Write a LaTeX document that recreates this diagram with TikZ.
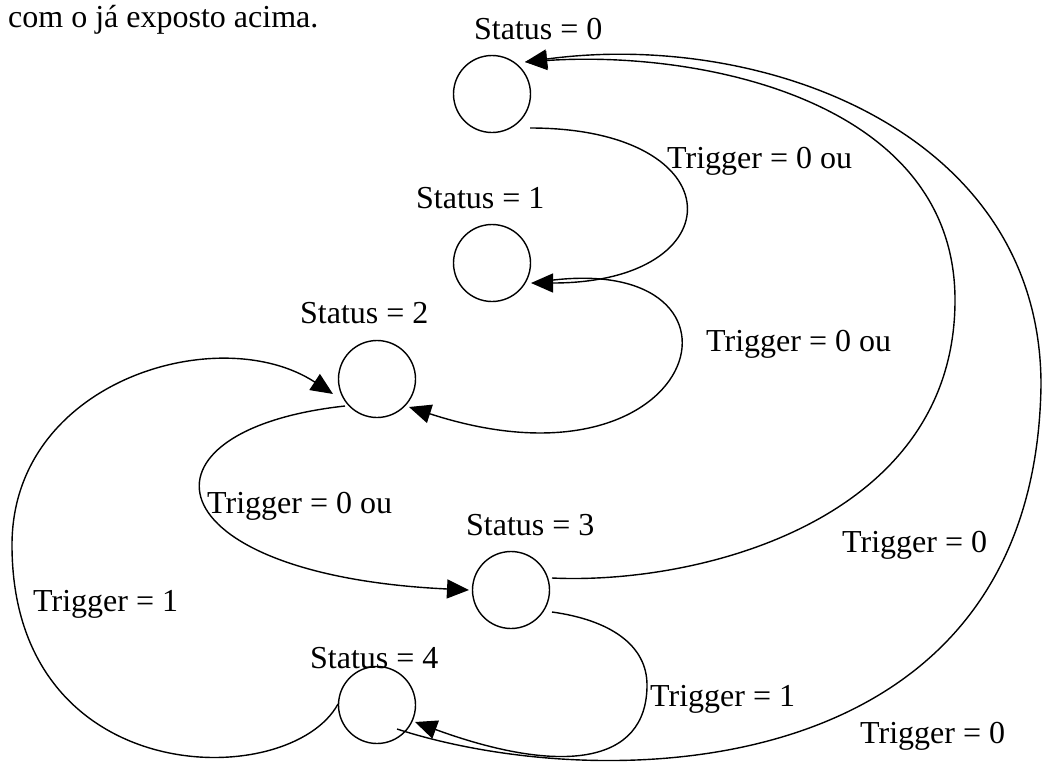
\documentclass[tikz,border=0pt]{standalone}
\usepackage{fontspec}
\setmainfont{Liberation Serif}
\usetikzlibrary{arrows.meta}
\begin{document}
\begin{tikzpicture}[x=1pt,y=-1pt,
  state/.style={circle,draw,line width=1.4pt,minimum size=77pt,inner sep=0pt},
  lbl/.style={anchor=base west,inner sep=0pt,font=\fontsize{32}{38}\selectfont},
  edge/.style={line width=1.4pt},
  arr/.style={edge,-{Triangle[length=22pt,width=19pt]}}]
\useasboundingbox (0,0) rectangle (1043,763);

% leading text line
\node[lbl] (intro) at (8,27) {com o já exposto acima.};

% states
\node[state] (s0) at (492,94) {};
\node[state] (s1) at (492,263) {};
\node[state] (s2) at (377,379) {};
\node[state] (s3) at (511,590) {};
\node[state] (s4) at (377,705) {};

% state captions
\node[lbl] (c0) at (474,39) {Status = 0};
\node[lbl] (c1) at (416,208) {Status = 1};
\node[lbl] (c2) at (300,323) {Status = 2};
\node[lbl] (c3) at (466,535) {Status = 3};
\node[lbl] (c4) at (310,668) {Status = 4};

% transition labels
\node[lbl] (t01) at (667,168) {Trigger = 0 ou};
\node[lbl] (t12) at (706,351) {Trigger = 0 ou};
\node[lbl] (t23) at (207,513) {Trigger = 0 ou};
\node[lbl] (t30) at (842,552) {Trigger = 0};
\node[lbl] (t34) at (650,706) {Trigger = 1};
\node[lbl] (t42) at (33,611) {Trigger = 1};
\node[lbl] (t40) at (860,743) {Trigger = 0};

% transitions
\draw[arr] ([shift={(38,34)}]s0.center) .. controls (736,128) and (736,283) .. ([shift={(39,20)}]s1.center);
\draw[arr] ([shift={(41,20)}]s1.center) .. controls (775,240) and (710,505) .. ([shift={(32,28)}]s2.center);
\draw[arr] ([shift={(-32,27)}]s2.center) .. controls (125,430) and (150,575) .. ([shift={(-42,0)}]s3.center);
\draw[arr] ([shift={(41,-12)}]s3.center) .. controls (700,585) and (955,520) .. (955,300)
   .. controls (955,100) and (700,50) .. ([shift={(33,-32)}]s0.center);
\draw[arr] ([shift={(20,24)}]s4.center) .. controls (600,795) and (1035,790) .. (1041,385)
   .. controls (1041,130) and (760,30) .. ([shift={(33,-32)}]s0.center);
\draw[arr] ([shift={(41,22)}]s3.center) .. controls (610,620) and (647,645) .. (647,685)
   .. controls (647,765) and (560,775) .. ([shift={(38,17)}]s4.center);
\draw[arr] ([shift={(-39,-1)}]s4.center) .. controls (290,792) and (12,792) .. (12,545)
   .. controls (12,380) and (220,320) .. ([shift={(-44,15)}]s2.center);
\end{tikzpicture}
\end{document}
